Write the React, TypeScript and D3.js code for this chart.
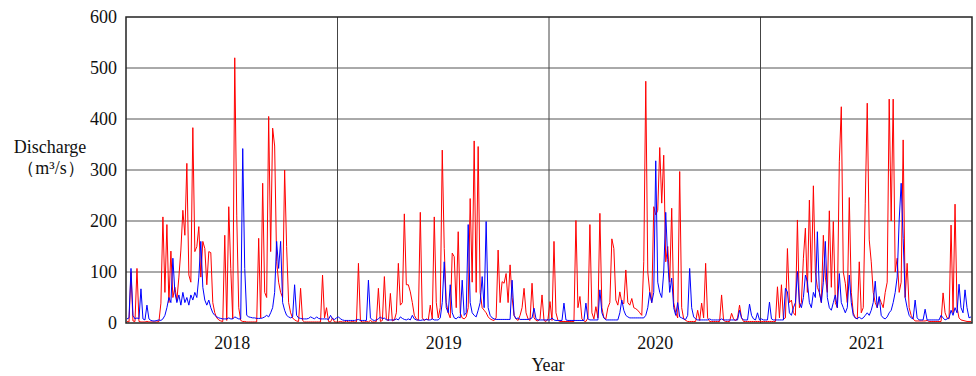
import React from "react";
import * as d3 from "d3";

// each year is split into 106 steps (about 3.4 days each)
const years = ["2018", "2019", "2020", "2021"];
const stepsPerYear = 106;
const yTicks = [0, 100, 200, 300, 400, 500, 600];

const red2018 = [
  3, 2, 100, 4, 3, 107, 3, 2, 2, 2,
  3, 2, 2, 2, 2, 2, 3, 39, 208, 60,
  193, 40, 141, 50, 70, 45, 90, 143, 221, 172,
  313, 94, 80, 383, 140, 150, 189, 90, 160, 146,
  75, 140, 138, 40, 20, 10, 6, 4, 3, 172,
  5, 228, 107, 8, 520, 210, 30, 5, 3, 3,
  2, 2, 2, 2, 2, 2, 166, 10, 274, 60,
  50, 405, 140, 382, 347, 120, 80, 60, 50, 300,
  150, 40, 20, 10, 6, 4, 3, 68, 5, 2,
  2, 2, 2, 2, 2, 2, 2, 2, 94, 10,
  30, 3, 2, 10, 2, 2,
];
const blue2018 = [
  8, 10, 107, 15, 8, 10, 8, 67, 8, 6,
  35, 8, 5, 4, 4, 5, 6, 5, 8, 15,
  30, 50, 40, 127, 60, 40, 55, 35, 60, 40,
  50, 35, 55, 45, 60, 50, 90, 160, 70, 45,
  35, 45, 30, 20, 15, 12, 10, 9, 8, 8,
  8, 10, 8, 8, 12, 10, 8, 8, 342, 107,
  15, 12, 11, 10, 10, 9, 9, 9, 10, 12,
  15, 12, 20, 30, 60, 160, 107, 160, 40, 25,
  15, 12, 10, 12, 75, 15, 10, 9, 8, 8,
  8, 9, 12, 10, 8, 12, 9, 8, 8, 8,
  8, 7, 15, 8, 7, 10,
];
const red2019 = [
  2, 3, 2, 2, 4, 2, 2, 3, 2, 2,
  117, 4, 2, 2, 3, 2, 5, 2, 2, 3,
  68, 3, 5, 91, 8, 4, 58, 4, 6, 20,
  117, 35, 40, 214, 75, 75, 61, 40, 15, 8,
  5, 217, 10, 5, 8, 6, 35, 8, 208, 40,
  10, 30, 339, 146, 40, 20, 10, 137, 130, 30,
  179, 20, 10, 8, 12, 30, 244, 80, 357, 60,
  346, 60, 30, 25, 20, 12, 8, 6, 5, 10,
  143, 40, 81, 78, 97, 40, 114, 50, 15, 8,
  5, 15, 30, 68, 20, 8, 5, 78, 10, 5,
  4, 8, 55, 5, 3, 8,
];
const blue2019 = [
  12, 8, 6, 5, 5, 5, 5, 5, 5, 6,
  7, 5, 5, 5, 5, 84, 10, 6, 5, 6,
  8, 12, 8, 10, 6, 6, 6, 6, 6, 8,
  6, 12, 9, 7, 6, 8, 6, 15, 8, 6,
  6, 5, 6, 6, 7, 6, 6, 8, 6, 6,
  6, 10, 40, 120, 30, 20, 75, 20, 10, 8,
  12, 10, 84, 15, 20, 193, 40, 20, 15, 12,
  25, 40, 91, 30, 199, 30, 15, 10, 8, 7,
  7, 7, 7, 7, 7, 7, 7, 84, 15, 8,
  10, 7, 7, 7, 7, 7, 8, 10, 29, 8,
  6, 6, 6, 6, 6, 6,
];
const red2020 = [
  42, 5, 160, 20, 5, 3, 3, 3, 3, 3,
  3, 3, 3, 201, 30, 52, 8, 4, 3, 10,
  193, 20, 8, 32, 10, 215, 30, 10, 8, 30,
  40, 165, 146, 45, 35, 61, 40, 38, 104, 40,
  35, 48, 30, 28, 25, 20, 15, 120, 474, 100,
  61, 40, 228, 212, 221, 344, 235, 329, 120, 150,
  80, 225, 40, 20, 10, 297, 30, 8, 5, 3,
  3, 3, 3, 3, 25, 5, 39, 10, 117, 10,
  3, 3, 3, 3, 3, 3, 55, 5, 3, 3,
  3, 19, 8, 4, 10, 35, 10, 3, 3, 3,
  3, 3, 3, 3, 3, 3,
];
const blue2020 = [
  6, 10, 6, 5, 5, 5, 5, 39, 6, 5,
  5, 5, 5, 5, 5, 5, 5, 5, 39, 8,
  6, 6, 6, 6, 6, 65, 20, 10, 6, 6,
  6, 6, 6, 6, 6, 20, 45, 25, 15, 12,
  10, 10, 10, 10, 10, 10, 10, 10, 15, 30,
  60, 40, 60, 318, 80, 60, 50, 100, 217, 124,
  60, 88, 30, 15, 40, 12, 10, 8, 7, 15,
  107, 30, 12, 8, 6, 6, 6, 6, 6, 6,
  8, 6, 6, 6, 6, 6, 8, 6, 6, 6,
  6, 6, 6, 6, 6, 25, 10, 6, 6, 6,
  37, 15, 8, 6, 20, 6,
];
const red2021 = [
  3, 3, 3, 3, 3, 3, 3, 3, 71, 10,
  75, 8, 10, 146, 40, 45, 20, 15, 202, 30,
  40, 127, 186, 60, 241, 80, 269, 100, 70, 60,
  40, 172, 90, 60, 220, 70, 199, 40, 30, 316,
  424, 100, 78, 40, 246, 60, 20, 10, 8, 120,
  20, 30, 235, 431, 163, 120, 60, 40, 30, 50,
  40, 30, 60, 80, 439, 200, 439, 100, 127, 60,
  80, 359, 50, 117, 30, 15, 8, 4, 4, 4,
  4, 4, 4, 5, 3, 3, 3, 3, 3, 3,
  3, 59, 20, 10, 8, 192, 20, 233, 30, 10,
  6, 5, 4, 3, 3, 3,
];
const blue2021 = [
  8, 6, 6, 6, 41, 8, 6, 6, 6, 6,
  6, 6, 68, 61, 20, 15, 30, 40, 101, 40,
  30, 50, 94, 81, 40, 30, 60, 50, 179, 60,
  40, 80, 160, 50, 30, 25, 40, 55, 30, 97,
  40, 30, 20, 30, 94, 40, 15, 10, 8, 12,
  8, 10, 15, 20, 15, 25, 40, 82, 30, 52,
  15, 10, 8, 12, 20, 25, 40, 60, 90, 202,
  274, 166, 50, 30, 15, 10, 8, 45, 10, 6,
  6, 6, 27, 6, 6, 6, 6, 6, 6, 6,
  15, 10, 6, 8, 10, 25, 15, 30, 20, 76,
  30, 20, 65, 30, 10, 12,
];

const redSeries = [...red2018, ...red2019, ...red2020, ...red2021];
const blueSeries = [...blue2018, ...blue2019, ...blue2020, ...blue2021];

export default function App() {
  const width = 976;
  const height = 376;
  const left = 126;
  const right = 972;
  const top = 17;
  const bottom = 323;
  const font = "'Liberation Serif', 'Times New Roman', serif";

  const svgRef = React.useRef<SVGSVGElement>(null);

  React.useEffect(() => {
    const svg = d3.select(svgRef.current);
    const total = stepsPerYear * years.length;

    const xScale = d3.scaleLinear().domain([0, total]).range([left, right]);
    const yScale = d3.scaleLinear().domain([0, 600]).range([bottom, top]);

    // horizontal grid
    svg
      .select(".grid")
      .selectAll("line.h")
      .data(yTicks.slice(1, -1))
      .join("line")
      .attr("class", "h")
      .attr("x1", left)
      .attr("x2", right)
      .attr("y1", (d) => yScale(d))
      .attr("y2", (d) => yScale(d))
      .attr("stroke", "#555")
      .attr("stroke-width", 1);

    // year boundaries
    const bounds = d3.range(1, years.length).map((i) => i * stepsPerYear);
    svg
      .select(".grid")
      .selectAll("line.v")
      .data(bounds)
      .join("line")
      .attr("class", "v")
      .attr("x1", (d) => xScale(d))
      .attr("x2", (d) => xScale(d))
      .attr("y1", top)
      .attr("y2", bottom)
      .attr("stroke", "#444")
      .attr("stroke-width", 1);

    const myLine = d3
      .line<number>()
      .x((v, i) => xScale(i + 0.5))
      .y((v) => yScale(v));

    svg
      .select(".series")
      .selectAll("path")
      .data([
        { values: redSeries, color: "#ff0000" },
        { values: blueSeries, color: "#0000ff" },
      ])
      .join("path")
      .attr("d", (d) => myLine(d.values))
      .attr("fill", "none")
      .attr("stroke", (d) => d.color)
      .attr("stroke-width", 1)
      .attr("stroke-linejoin", "round");

    const yAxis = d3.axisLeft(yScale).tickValues(yTicks).tickSize(0).tickPadding(9);
    svg
      .select(".y-axis")
      .attr("transform", `translate(${left},0)`)
      .call(yAxis as any)
      .call((g: any) => g.select(".domain").remove())
      .selectAll("text")
      .style("font-family", font)
      .style("font-size", "18px")
      .style("fill", "#111");

    const xAxis = d3
      .axisBottom(xScale)
      .tickValues(years.map((y, i) => (i + 0.5) * stepsPerYear))
      .tickFormat((d, i) => years[i])
      .tickSize(0)
      .tickPadding(13);
    svg
      .select(".x-axis")
      .attr("transform", `translate(0,${bottom})`)
      .call(xAxis as any)
      .call((g: any) => g.select(".domain").remove())
      .selectAll("text")
      .style("font-family", font)
      .style("font-size", "18px")
      .style("fill", "#111");
  }, []);

  return (
    <svg
      ref={svgRef}
      width={width}
      height={height}
      style={{ position: "absolute", left: 0, top: 0, background: "#fff" }}
    >
      <rect x={0} y={0} width={width} height={height} fill="#fff" />
      <g className="grid" />
      <g className="series" />
      <rect
        x={left}
        y={top}
        width={right - left}
        height={bottom - top}
        fill="none"
        stroke="#222"
        strokeWidth={1.5}
      />
      <g className="y-axis" />
      <g className="x-axis" />
      <text x={50} y={153} textAnchor="middle" fontFamily={font} fontSize={18} fill="#111">
        Discharge
      </text>
      <text x={51} y={174} textAnchor="middle" fontFamily={font} fontSize={18} fill="#111">
        （m³/s）
      </text>
      <text x={548} y={371} textAnchor="middle" fontFamily={font} fontSize={18} fill="#111">
        Year
      </text>
    </svg>
  );
}
